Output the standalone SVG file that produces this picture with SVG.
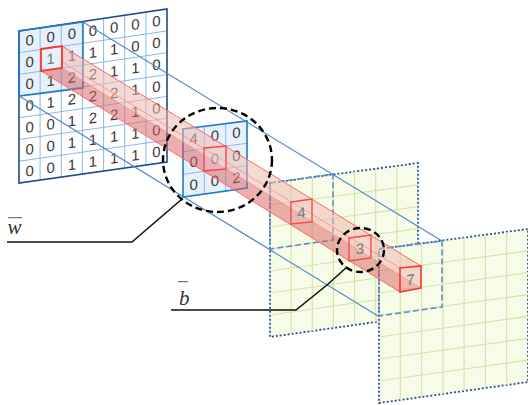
<svg xmlns="http://www.w3.org/2000/svg" width="528" height="405" viewBox="0 0 528 405">
<style>
.d{font-family:"Liberation Sans",Arial,sans-serif;font-size:15px;fill:#3a3a3a;text-anchor:middle}
.o{fill:#777}
.m{font-family:"Liberation Serif","Times New Roman",serif;font-size:21px;font-style:italic;fill:#333}
.ig{fill:none;stroke:#8db8e6;stroke-width:1}
.fg{fill:none;stroke:#d5e5a8;stroke-width:1.2}
.fm{fill:#f7fce9;stroke:#2c4f96;stroke-width:1.8;stroke-dasharray:2 2}
.dr{fill:none;stroke:#5f8fcf;stroke-width:1.6;stroke-dasharray:6 3}
.fr{fill:none;stroke:#4f86cc;stroke-width:1.1}
.rb{fill:#ecb9ae;fill-opacity:.55;stroke:none}
.rl{fill:#d9605e;fill-opacity:.5;stroke:none}
.re{fill:none;stroke:#f66;stroke-width:1}
.rt{fill:none;stroke:#f88;stroke-width:.8}
.rs{fill:#f0d0d6;fill-opacity:.3;stroke:#f44;stroke-width:1.3}
.c{fill:none;stroke:#000;stroke-width:2.4;stroke-dasharray:7 4}
.l{fill:none;stroke:#111;stroke-width:1.6}
</style>
<g id="input-grid">
<path d="M19 31L167 9V162L19 183Z" fill="#fff"/>
<path d="M19 31L83 22V88L19 96Z" fill="#e6f1fc"/>
<path class="ig" d="M40.1 27.9V180M61.3 24.7V176.8M82.4 21.6V173.9M103.6 18.4V170.8M124.7 15.3V167.8M145.9 12.1V164.7M19 52.7L167 30.9M19 74.4L167 52.7M19 96.1L167 74.6M19 117.8L167 96.4M19 139.5L167 118.3M19 161.2L167 140.1"/>
<path d="M19 31L167 9V162L19 183Z" fill="none" stroke="#1f4a8c" stroke-width="1.6"/>
<path d="M19 96V31L83 22V88Z" fill="none" stroke="#1f7ac6" stroke-width="1.6"/>
<g transform="translate(29.6 0)"><text class="d" transform="translate(0 45.3) skewY(-8)">0</text><text class="d" transform="translate(0 67.1) skewY(-8)">0</text><text class="d" transform="translate(0 88.9) skewY(-8)">0</text><text class="d" transform="translate(0 110.7) skewY(-8)">0</text><text class="d" transform="translate(0 132.5) skewY(-8)">0</text><text class="d" transform="translate(0 154.3) skewY(-8)">0</text><text class="d" transform="translate(0 176.1) skewY(-8)">0</text></g>
<g transform="translate(50.7 0)"><text class="d" transform="translate(0 42.2) skewY(-8)">0</text><text class="d o" transform="translate(0 64) skewY(-8)">1</text><text class="d" transform="translate(0 85.8) skewY(-8)">1</text><text class="d" transform="translate(0 107.6) skewY(-8)">1</text><text class="d" transform="translate(0 129.4) skewY(-8)">0</text><text class="d" transform="translate(0 151.2) skewY(-8)">0</text><text class="d" transform="translate(0 173) skewY(-8)">0</text></g>
<g transform="translate(71.9 0)"><text class="d" transform="translate(0 39) skewY(-8)">0</text><text class="d" transform="translate(0 60.8) skewY(-8)">1</text><text class="d" transform="translate(0 82.6) skewY(-8)">2</text><text class="d" transform="translate(0 104.4) skewY(-8)">2</text><text class="d" transform="translate(0 126.2) skewY(-8)">1</text><text class="d" transform="translate(0 148) skewY(-8)">1</text><text class="d" transform="translate(0 169.8) skewY(-8)">1</text></g>
<g transform="translate(93 0)"><text class="d" transform="translate(0 35.9) skewY(-8)">0</text><text class="d" transform="translate(0 57.7) skewY(-8)">1</text><text class="d" transform="translate(0 79.5) skewY(-8)">2</text><text class="d" transform="translate(0 101.3) skewY(-8)">2</text><text class="d" transform="translate(0 123.1) skewY(-8)">2</text><text class="d" transform="translate(0 144.9) skewY(-8)">1</text><text class="d" transform="translate(0 166.7) skewY(-8)">1</text></g>
<g transform="translate(114.1 0)"><text class="d" transform="translate(0 32.7) skewY(-8)">0</text><text class="d" transform="translate(0 54.5) skewY(-8)">1</text><text class="d" transform="translate(0 76.3) skewY(-8)">1</text><text class="d" transform="translate(0 98.1) skewY(-8)">2</text><text class="d" transform="translate(0 119.9) skewY(-8)">2</text><text class="d" transform="translate(0 141.7) skewY(-8)">1</text><text class="d" transform="translate(0 163.5) skewY(-8)">1</text></g>
<g transform="translate(135.3 0)"><text class="d" transform="translate(0 29.6) skewY(-8)">0</text><text class="d" transform="translate(0 51.4) skewY(-8)">0</text><text class="d" transform="translate(0 73.2) skewY(-8)">1</text><text class="d" transform="translate(0 95) skewY(-8)">1</text><text class="d" transform="translate(0 116.8) skewY(-8)">1</text><text class="d" transform="translate(0 138.6) skewY(-8)">1</text><text class="d" transform="translate(0 160.4) skewY(-8)">1</text></g>
<g transform="translate(156.4 0)"><text class="d" transform="translate(0 26.4) skewY(-8)">0</text><text class="d" transform="translate(0 48.2) skewY(-8)">0</text><text class="d" transform="translate(0 70) skewY(-8)">0</text><text class="d" transform="translate(0 91.8) skewY(-8)">0</text><text class="d" transform="translate(0 113.6) skewY(-8)">0</text><text class="d" transform="translate(0 135.4) skewY(-8)">0</text><text class="d" transform="translate(0 157.2) skewY(-8)">0</text></g>
</g>
<g id="feature-map-1">
<path class="fm" d="M270 183L418 163V316L270 337Z"/>
<path class="fg" d="M291.1 180.2V334M312.3 177.3V331M333.4 174.5V328M354.6 171.6V325M375.7 168.7V322M396.9 165.9V319M270 205L418 184.9M270 227L418 206.7M270 249L418 228.6M270 271L418 250.4M270 293L418 272.3M270 315L418 294.1"/>
<path class="dr" d="M270 183L333 174V240L270 249Z"/>
</g>
<g id="feature-map-2">
<path class="fm" d="M379 249L528 229V382L379 403Z"/>
<path class="fg" d="M400.3 246.1V400M421.6 243.3V397M442.9 240.4V394M464.1 237.5V391M485.4 234.7V388M506.7 231.9V385M379 271L528 250.9M379 293L528 272.7M379 315L528 294.6M379 337L528 316.4M379 359L528 338.3M379 381L528 360.1"/>
<path class="dr" d="M379 249L442 241V307L379 316Z"/>
</g>
<g id="connectors">
<path class="fr" d="M83 22L442 241"/>
<path class="fr" d="M19 96L378 316"/>
</g>
<g id="kernel">
<path d="M183 129L247 121V188L183 197Z" fill="#e6f1fc"/>
<path class="ig" d="M204.3 126.3V194.7M225.7 123.7V190.7M183 151.7L247 143.3M183 174.3L247 165.7"/>
<path d="M183 129L247 121V188L183 197Z" fill="none" stroke="#1f7ac6" stroke-width="1.6"/>
<text class="d" transform="translate(193.600 144) skewY(-8)">4</text><text class="d" transform="translate(215 141) skewY(-8)">0</text><text class="d" transform="translate(236.400 138) skewY(-8)">0</text>
<text class="d" transform="translate(193.600 167) skewY(-8)">0</text><text class="d" transform="translate(215 164) skewY(-8)">0</text><text class="d" transform="translate(236.400 161) skewY(-8)">0</text>
<text class="d" transform="translate(193.600 190) skewY(-8)">0</text><text class="d" transform="translate(215 186) skewY(-8)">0</text><text class="d" transform="translate(236.400 183) skewY(-8)">2</text>
</g>
<g id="receptive-beam">
<path class="rb" d="M62 46L421 266V288L62 68Z"/>
<path class="rl" d="M41 71L62 68L421 288L400 292Z"/>
<path class="re" d="M62 46L421 266M41 71L400 292"/>
<path class="rt" d="M62 62L400 268M62 68L421 288"/>
<path d="M41 49L62 46V68L41 71Z" fill="none" stroke="#f33" stroke-width="1.8"/>
<path class="rs" d="M204 148L226 146V169L204 171Z"/>
<path class="rs" d="M291 202L312 199V222L291 224Z"/>
<path class="rs" d="M349 238L371 235V258L349 261Z"/>
<path d="M400 268L421 266V288L400 292Z" fill="#f4d8d4" fill-opacity=".3" stroke="#f33" stroke-width="1.6"/>
</g>
<g id="output-values">
<text class="d o" transform="translate(301.500 218) skewY(-8)">4</text>
<text class="d o" transform="translate(360 254) skewY(-8)">3</text>
<text class="d o" transform="translate(410.500 285) skewY(-8)">7</text>
</g>
<g id="label-w">
<ellipse class="c" cx="217.500" cy="160" rx="54.500" ry="52"/>
<path class="l" d="M7 242H132L182 199"/>
<path d="M8 217.700H22" stroke="#555" stroke-width="1"/>
<text class="m" x="7.500" y="234">w</text>
</g>
<g id="label-b">
<ellipse class="c" cx="360.500" cy="250" rx="23.500" ry="22"/>
<path class="l" d="M171 310H296L327 285L347 267"/>
<path d="M178 281.700H188" stroke="#555" stroke-width="1"/>
<text class="m" x="179" y="305">b</text>
</g>
</svg>
